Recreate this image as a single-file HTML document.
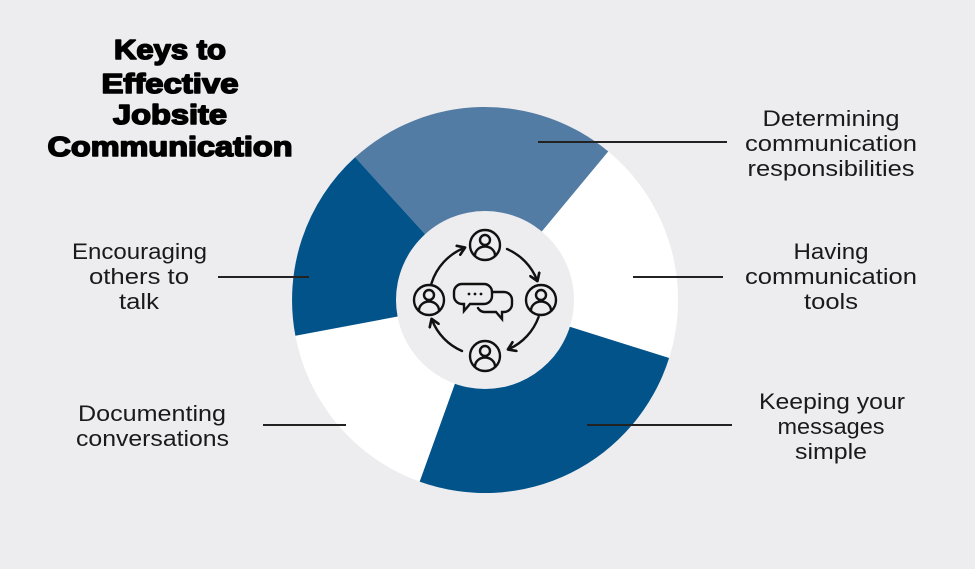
<!DOCTYPE html>
<html><head><meta charset="utf-8"><style>
html,body{margin:0;padding:0;background:#ededef;}
svg{display:block}
.t{font-family:"Liberation Sans",sans-serif;font-size:22px;fill:#1a1a1a;text-anchor:middle}
.h{font-family:"Liberation Sans",sans-serif;font-weight:bold;font-size:28px;fill:#000;stroke:#000;stroke-width:1.6px;stroke-linejoin:round;text-anchor:middle}
</style></head><body>
<svg width="975" height="569" viewBox="0 0 975 569" xmlns="http://www.w3.org/2000/svg">
<defs>
<marker id="ah" viewBox="0 0 10 10" refX="6" refY="5" markerWidth="5" markerHeight="5" orient="auto">
<path d="M1,1 L7,5 L1,9" fill="none" stroke="#111" stroke-width="2.2" stroke-linecap="round" stroke-linejoin="round"/>
</marker>
</defs>
<rect width="975" height="569" fill="#ededef"/>
<path d="M485,300 L355.1,157.3 A193,193 0 0 1 608.3,151.5 Z" fill="#537ca4"/>
<path d="M485,300 L608.3,151.5 A193,193 0 0 1 669.1,358 Z" fill="#ffffff"/>
<path d="M485,300 L669.1,358 A193,193 0 0 1 419.6,481.6 Z" fill="#02538a"/>
<path d="M485,300 L419.6,481.6 A193,193 0 0 1 295.4,335.8 Z" fill="#ffffff"/>
<path d="M485,300 L295.4,335.8 A193,193 0 0 1 355.1,157.3 Z" fill="#02538a"/>
<circle cx="485" cy="300" r="89" fill="#ededef"/>
<g stroke="#222" stroke-width="2">
<line x1="538" y1="142" x2="727" y2="142"/>
<line x1="218" y1="277" x2="309" y2="277"/>
<line x1="633" y1="277" x2="723" y2="277"/>
<line x1="263" y1="425" x2="346" y2="425"/>
<line x1="587" y1="425" x2="732" y2="425"/>
</g>
<g fill="none" stroke="#111" stroke-width="2.4" stroke-linecap="round">
<g id="p">
<circle cx="485" cy="245" r="15"/>
<circle cx="485" cy="240" r="5"/>
<path d="M475,255.5 A10,9 0 0 1 495,255.5"/>
</g>
<use href="#p" transform="translate(56,55)"/>
<use href="#p" transform="translate(0,111)"/>
<use href="#p" transform="translate(-56,55)"/>
<path d="M431.4,283.6 A56,56 0 0 1 464,248" marker-end="url(#ah)"/>
<path d="M507,249 A56,56 0 0 1 537,280" marker-end="url(#ah)"/>
<path d="M538.6,317 A56,56 0 0 1 509,349" marker-end="url(#ah)"/>
<path d="M462,351 A56,56 0 0 1 432,320" marker-end="url(#ah)"/>
<path d="M462,284 h22 a8,8 0 0 1 8,8 v4 a8,8 0 0 1 -8,8 h-14 l-6,7 v-7 h-2 a8,8 0 0 1 -8,-8 v-4 a8,8 0 0 1 8,-8 z"/>
<path d="M492,292 h12 a8,8 0 0 1 8,8 v4 a8,8 0 0 1 -8,8 h-2 v7 l-6,-7 h-12 a8,8 0 0 1 -6,-4"/>
</g>
<g fill="#111"><circle cx="469" cy="294" r="1.4"/><circle cx="475" cy="294" r="1.4"/><circle cx="481" cy="294" r="1.4"/></g>
<text class="h" x="170" y="59" textLength="112" lengthAdjust="spacingAndGlyphs">Keys to</text>
<text class="h" x="170" y="93" textLength="137" lengthAdjust="spacingAndGlyphs">Effective</text>
<text class="h" x="170" y="124" textLength="114" lengthAdjust="spacingAndGlyphs">Jobsite</text>
<text class="h" x="170" y="156" textLength="245" lengthAdjust="spacingAndGlyphs">Communication</text>
<text class="t" x="831" y="126" textLength="137" lengthAdjust="spacingAndGlyphs">Determining</text>
<text class="t" x="831" y="151" textLength="172" lengthAdjust="spacingAndGlyphs">communication</text>
<text class="t" x="831" y="176" textLength="167" lengthAdjust="spacingAndGlyphs">responsibilities</text>
<text class="t" x="831" y="259" textLength="75" lengthAdjust="spacingAndGlyphs">Having</text>
<text class="t" x="831" y="284" textLength="172" lengthAdjust="spacingAndGlyphs">communication</text>
<text class="t" x="831" y="309" textLength="54" lengthAdjust="spacingAndGlyphs">tools</text>
<text class="t" x="832" y="409" textLength="146" lengthAdjust="spacingAndGlyphs">Keeping your</text>
<text class="t" x="831" y="434" textLength="107" lengthAdjust="spacingAndGlyphs">messages</text>
<text class="t" x="831" y="459" textLength="72" lengthAdjust="spacingAndGlyphs">simple</text>
<text class="t" x="139.5" y="259" textLength="135" lengthAdjust="spacingAndGlyphs">Encouraging</text>
<text class="t" x="139" y="284" textLength="100" lengthAdjust="spacingAndGlyphs">others to</text>
<text class="t" x="139" y="309" textLength="40" lengthAdjust="spacingAndGlyphs">talk</text>
<text class="t" x="152" y="421" textLength="148" lengthAdjust="spacingAndGlyphs">Documenting</text>
<text class="t" x="152.5" y="446" textLength="153" lengthAdjust="spacingAndGlyphs">conversations</text>
</svg>
</body></html>
